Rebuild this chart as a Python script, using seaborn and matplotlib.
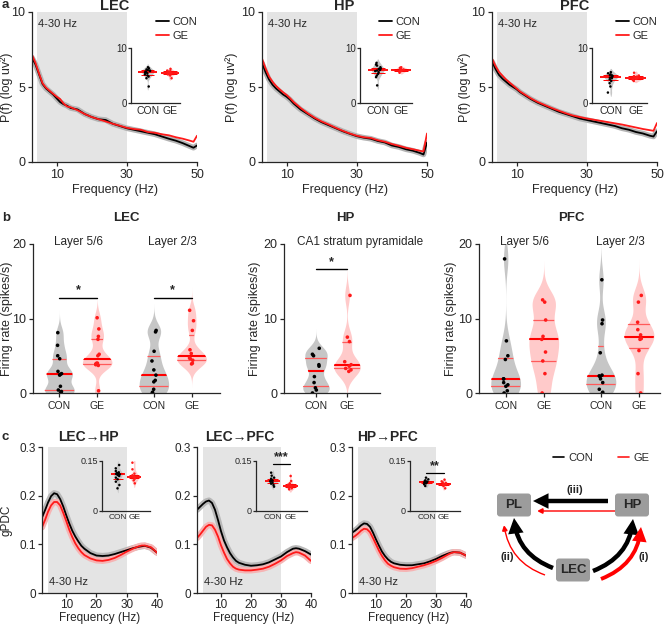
import numpy as np
import pandas as pd
import matplotlib
matplotlib.use("Agg")
import matplotlib.pyplot as plt
import seaborn as sns
from matplotlib.lines import Line2D
from matplotlib.collections import PolyCollection
from matplotlib.patches import FancyBboxPatch, FancyArrowPatch
from matplotlib.transforms import blended_transform_factory

# ----------------------------------------------------------------- data
groups = ["CON", "GE"]

# panel a : power spectra (log power)
a_freq = [3, 4, 5, 6, 7, 8, 9, 10, 11, 12, 13, 14, 16, 18, 20, 22, 24, 26, 28, 30,
          32, 34, 36, 38, 40, 42, 44, 46, 48, 49, 50]
a_lec_con = [6.95, 6.5, 5.85, 5.2, 4.9, 4.7, 4.5, 4.25, 4.0, 3.85, 3.75, 3.6, 3.5, 3.2, 3.0, 2.85,
             2.8, 2.55, 2.4, 2.25, 2.15, 2.05, 1.95, 1.85, 1.7, 1.55, 1.42, 1.25, 1.05, 0.95, 1.1]
a_lec_ge = [7.15, 6.6, 5.9, 5.25, 4.95, 4.75, 4.55, 4.36, 4.2, 3.9, 3.7, 3.65, 3.45, 3.2, 3.0, 2.85,
            2.7, 2.55, 2.42, 2.28, 2.2, 2.15, 2.0, 1.95, 1.85, 1.78, 1.65, 1.55, 1.42, 1.35, 1.75]
a_hp_con = [6.6, 6.0, 5.5, 5.15, 4.9, 4.7, 4.5, 4.35, 4.15, 3.9, 3.7, 3.5, 3.2, 2.9, 2.65, 2.45,
            2.25, 2.05, 1.88, 1.72, 1.62, 1.55, 1.4, 1.3, 1.1, 1.0, 0.85, 0.75, 0.6, 0.5, 1.3]
a_hp_ge = [6.9, 6.25, 5.7, 5.35, 5.07, 4.85, 4.65, 4.47, 4.25, 4.0, 3.8, 3.6, 3.25, 2.95, 2.7, 2.5,
           2.28, 2.08, 1.9, 1.75, 1.65, 1.6, 1.45, 1.35, 1.2, 1.08, 0.95, 0.85, 0.75, 0.7, 1.9]
a_pfc_con = [6.7, 6.2, 5.8, 5.55, 5.35, 5.15, 5.0, 4.85, 4.65, 4.5, 4.35, 4.2, 3.95, 3.75, 3.55, 3.35,
             3.2, 3.05, 2.9, 2.8, 2.7, 2.6, 2.5, 2.4, 2.25, 2.15, 2.0, 1.9, 1.75, 1.7, 2.05]
a_pfc_ge = [6.9, 6.4, 6.0, 5.75, 5.5, 5.3, 5.1, 4.9, 4.7, 4.55, 4.4, 4.25, 4.0, 3.8, 3.6, 3.42,
            3.25, 3.1, 3.0, 2.9, 2.82, 2.74, 2.66, 2.58, 2.5, 2.4, 2.3, 2.2, 2.12, 2.08, 2.6]

# panel a insets : mean power 4-30 Hz per animal
ai_lec_con = [6.5, 6.3, 6.1, 6.0, 5.9, 5.8, 5.7, 5.6, 5.5, 5.4, 5.2, 5.0, 4.8, 4.5, 3.0]
ai_lec_ge = [6.2, 5.9, 5.8, 5.7, 5.6, 5.5, 5.4, 5.3, 5.2, 5.0, 4.5]
ai_hp_con = [7.3, 7.0, 6.8, 6.5, 6.3, 6.2, 6.1, 6.0, 5.9, 5.8, 5.6, 5.3, 5.0, 4.7, 3.2]
ai_hp_ge = [6.5, 6.4, 6.3, 6.2, 6.1, 6.0, 6.0, 5.9, 5.8, 5.7, 5.5]
ai_pfc_con = [5.6, 5.4, 5.2, 5.1, 5.0, 4.9, 4.8, 4.7, 4.6, 4.5, 4.3, 4.0, 3.6, 3.0, 1.9]
ai_pfc_ge = [5.5, 5.0, 4.9, 4.8, 4.7, 4.6, 4.5, 4.4, 4.3, 4.2, 4.0]

# panel b : firing rates (spikes/s)
b_layers = ["Layer 5/6", "Layer 2/3"]
b_lec_l56_con = [8.1, 6.4, 5.0, 4.6, 2.9, 2.6, 2.5, 2.4, 0.9, 0.4, 0.2, 0.1, 0.0]
b_lec_l56_ge = [10.1, 8.6, 7.6, 7.2, 5.2, 5.0, 4.0, 4.0, 3.9, 3.8, 3.7, 0.3]
b_lec_l23_con = [8.4, 8.2, 5.6, 4.3, 3.1, 2.4, 1.7, 1.5, 0.5, 0.1, 0.0]
b_lec_l23_ge = [11.1, 9.7, 8.4, 5.8, 5.3, 4.7, 4.6, 4.4, 4.0, 3.9]
b_hp_con = [6.0, 5.2, 5.0, 3.8, 3.6, 2.2, 1.4, 0.7, 0.4, 0.0]
b_hp_ge = [13.1, 7.5, 6.9, 4.2, 3.8, 3.6, 3.3, 3.1, 2.9]
b_pfc_l56_con = [18.0, 7.0, 5.0, 4.5, 1.9, 1.9, 1.4, 1.1, 0.9, 0.3, 0.0]
b_pfc_l56_ge = [12.5, 12.2, 9.8, 7.6, 7.2, 5.5, 4.3, 2.6, 0.0]
b_pfc_l23_con = [15.2, 9.8, 9.3, 5.4, 2.4, 2.3, 2.2, 1.9, 1.4, 0.5, 0.1, 0.0]
b_pfc_l23_ge = [13.1, 12.2, 9.5, 8.5, 7.8, 7.3, 7.2, 5.7, 2.6, 0.0]
b_sig_lec = [12.8, 12.8]      # height of significance bars (spikes/s)
b_sig_hp = 16.6

# panel c : gPDC
c_freq = [2, 3, 4, 5, 6, 7, 8, 9, 10, 11, 12, 13, 14, 15, 16, 18, 20, 22, 24, 26, 28, 30,
          32, 34, 35, 36, 38, 40]
c_lh_con = [0.155, 0.17, 0.186, 0.199, 0.205, 0.203, 0.193, 0.178, 0.16, 0.143, 0.128, 0.116,
            0.106, 0.097, 0.091, 0.082, 0.077, 0.076, 0.077, 0.080, 0.084, 0.088, 0.092, 0.095,
            0.096, 0.097, 0.093, 0.083]
c_lh_ge = [0.135, 0.15, 0.167, 0.18, 0.187, 0.187, 0.18, 0.165, 0.148, 0.13, 0.115, 0.102,
           0.092, 0.084, 0.078, 0.071, 0.067, 0.066, 0.068, 0.072, 0.078, 0.085, 0.091, 0.096,
           0.0975, 0.0975, 0.094, 0.083]
c_lp_con = [0.171, 0.177, 0.183, 0.188, 0.19, 0.185, 0.171, 0.15, 0.127, 0.108, 0.094, 0.082,
            0.073, 0.066, 0.062, 0.058, 0.056, 0.057, 0.059, 0.063, 0.069, 0.075, 0.084, 0.091,
            0.092, 0.091, 0.086, 0.079]
c_lp_ge = [0.113, 0.12, 0.128, 0.136, 0.14, 0.139, 0.13, 0.116, 0.098, 0.083, 0.07, 0.061,
           0.054, 0.05, 0.048, 0.0465, 0.0465, 0.048, 0.05, 0.054, 0.06, 0.067, 0.076, 0.082,
           0.084, 0.083, 0.077, 0.066]
c_hp_con = [0.124, 0.128, 0.133, 0.139, 0.143, 0.142, 0.136, 0.124, 0.11, 0.097, 0.085, 0.076,
            0.069, 0.064, 0.061, 0.058, 0.057, 0.057, 0.059, 0.061, 0.065, 0.07, 0.076, 0.081,
            0.083, 0.084, 0.083, 0.077]
c_hp_ge = [0.113, 0.117, 0.122, 0.128, 0.132, 0.131, 0.125, 0.113, 0.1, 0.087, 0.076, 0.067,
           0.06, 0.056, 0.053, 0.05, 0.0495, 0.051, 0.054, 0.057, 0.061, 0.066, 0.072, 0.079,
           0.082, 0.084, 0.083, 0.077]

# panel c insets : mean gPDC 4-30 Hz per animal
ci_lh_con = [0.138, 0.128, 0.12, 0.116, 0.114, 0.112, 0.111, 0.11, 0.108, 0.105, 0.1, 0.095, 0.088, 0.078, 0.068]
ci_lh_ge = [0.145, 0.125, 0.112, 0.107, 0.104, 0.103, 0.102, 0.1, 0.097, 0.092, 0.083]
ci_lp_con = [0.115, 0.106, 0.1, 0.097, 0.094, 0.092, 0.091, 0.09, 0.088, 0.085, 0.082, 0.078, 0.073]
ci_lp_ge = [0.105, 0.09, 0.083, 0.079, 0.077, 0.0755, 0.074, 0.072, 0.07, 0.068, 0.065]
ci_hp_con = [0.1, 0.095, 0.092, 0.09, 0.088, 0.087, 0.086, 0.085, 0.083, 0.08, 0.075]
ci_hp_ge = [0.094, 0.089, 0.086, 0.084, 0.082, 0.081, 0.08, 0.078, 0.075, 0.068]
ci_sig = [None, ("***", 0.141), ("**", 0.115)]

# ---------------------------------------------------------------- style
sns.set_style("ticks")
plt.rcParams["font.family"] = ["Liberation Sans", "DejaVu Sans"]
plt.rcParams["axes.linewidth"] = 0.9
plt.rcParams["xtick.major.width"] = 0.9
plt.rcParams["ytick.major.width"] = 0.9

pal_line = {"CON": "black", "GE": "#ff1a1a"}
pal_violin = {"CON": "#c6c6c6", "GE": "#ffcaca"}
pal_dot = {"CON": "black", "GE": "#ff1a1a"}
SHADE = "#e4e4e4"

W, H = 667, 625
fig = plt.figure(figsize=(W / 100, H / 100), dpi=100)
np.random.seed(3)


def add_ax(x0, y0, x1, y1):
    return fig.add_axes([x0 / W, 1 - y1 / H, (x1 - x0) / W, (y1 - y0) / H])


def ftext(x, y, s, **kw):
    fig.text(x / W, 1 - y / H, s, **kw)


def add_quartiles(ax, spec):
    polys = [c for c in ax.collections if isinstance(c, PolyCollection)]
    for pos, vals in spec:
        best = min(polys, key=lambda p: abs(p.get_paths()[0].vertices[:, 0].mean() - pos))
        q1, med, q3 = np.percentile(vals, [25, 50, 75])
        for yv, lw, col in ((q1, 0.9, "#ff5a5a"), (med, 1.5, "red"), (q3, 0.9, "#ff5a5a")):
            lc = ax.hlines(yv, pos - 0.7, pos + 0.7, colors=col, lw=lw, zorder=3)
            lc.set_clip_path(best.get_paths()[0], best.get_transform())


def small_inset(ax, con, ge, ylim, yticks, yticklabels, tfs, lfs):
    df = pd.DataFrame({"group": ["CON"] * len(con) + ["GE"] * len(ge), "val": con + ge})
    sns.violinplot(data=df, x="group", y="val", hue="group", order=groups, hue_order=groups,
                   palette=pal_violin, inner=None, linewidth=0, width=0.55, cut=1.5,
                   bw_adjust=0.8, density_norm="width", legend=False, saturation=1, ax=ax)
    for i, vals in enumerate([con, ge]):
        q1, med, q3 = np.percentile(vals, [25, 50, 75])
        ax.hlines(med, i - 0.42, i + 0.42, colors="red", lw=1.3, zorder=4)
        ax.hlines([q1, q3], i - 0.3, i + 0.3, colors="red", lw=0.7, zorder=4)
    sns.stripplot(data=df, x="group", y="val", hue="group", order=groups, hue_order=groups,
                  palette=pal_dot, size=1.8, jitter=0.13, legend=False, ax=ax, zorder=5)
    ax.set_facecolor("none")
    ax.set_ylim(*ylim)
    ax.set_yticks(yticks)
    ax.set_yticklabels(yticklabels)
    ax.set_xlabel("")
    ax.set_ylabel("")
    sns.despine(ax=ax)
    ax.tick_params(axis="y", labelsize=tfs, length=2, pad=1)
    ax.tick_params(axis="x", labelsize=lfs, length=0, pad=2)


# ============================================================== panel a
a_specs = [
    ("LEC", (32, 12, 197, 162), (131, 48, 180, 103), a_lec_con, a_lec_ge, ai_lec_con, ai_lec_ge, 1.0, 13),
    ("HP", (262, 12, 427, 162), (360, 48, 412, 103), a_hp_con, a_hp_ge, ai_hp_con, ai_hp_ge, 0.96, 238),
    ("PFC", (492, 12, 657, 162), (592, 48, 647, 103), a_pfc_con, a_pfc_ge, ai_pfc_con, ai_pfc_ge, 1.0, 471),
]
for title, axr, insr, con, ge, icon, ige, legx, ylab_x in a_specs:
    ax = add_ax(*axr)
    ax.axvspan(4.5, 30, color=SHADE, lw=0, zorder=0)
    n = len(a_freq)
    df = pd.DataFrame({"freq": a_freq * 2, "power": con + ge, "group": ["CON"] * n + ["GE"] * n})
    sns.lineplot(x=a_freq, y=con, color="#b4b4b4", lw=4, ax=ax, legend=False)
    sns.lineplot(data=df, x="freq", y="power", hue="group", hue_order=groups,
                 palette=pal_line, lw=1.3, ax=ax, legend=False)
    ax.set_xlim(3, 50)
    ax.set_ylim(0, 10)
    ax.set_xticks([10, 30, 50])
    ax.set_yticks([0, 5, 10])
    ax.set_xlabel("Frequency (Hz)", fontsize=9, labelpad=2)
    ax.set_ylabel("P(f) (log uv²)", fontsize=9)
    ax.yaxis.set_label_coords((ylab_x - axr[0]) / (axr[2] - axr[0]), 0.5)
    sns.despine(ax=ax)
    ax.tick_params(labelsize=9, length=3, pad=2)
    ax.text(0.035, 0.92, "4-30 Hz", transform=ax.transAxes, fontsize=8, va="center", ha="left")
    handles = [Line2D([], [], color=pal_line[g], lw=1.3) for g in groups]
    ax.legend(handles, groups, loc="upper right", bbox_to_anchor=(legx, 0.965), frameon=False,
              fontsize=8, handlelength=1.2, handletextpad=0.3, labelspacing=0.3,
              borderpad=0, borderaxespad=0)
    ftext((axr[0] + axr[2]) / 2, 6, title, fontsize=10.5, fontweight="bold", ha="center", va="center")
    ins = add_ax(*insr)
    small_inset(ins, icon, ige, (0, 10), [0, 10], ["0", "10"], 7, 7.5)
    ins.set_xlim(-0.75, 1.45)

ftext(2, 5, "a", fontsize=9.5, fontweight="bold", ha="left", va="center")

# ============================================================== panel b
def layered_panel(axr, data, sig):
    ax = add_ax(*axr)
    rows = []
    for (layer, g), vals in data.items():
        rows += [(layer, g, v) for v in vals]
    df = pd.DataFrame(rows, columns=["layer", "group", "rate"])
    width = 0.8
    sns.violinplot(data=df, x="layer", y="rate", hue="group", order=b_layers, hue_order=groups,
                   palette=pal_violin, inner=None, linewidth=0, width=width, gap=0.22, cut=3.5,
                   bw_adjust=0.55, density_norm="width", dodge=True, legend=False,
                   saturation=1, ax=ax)
    sns.stripplot(data=df, x="layer", y="rate", hue="group", order=b_layers, hue_order=groups,
                  palette=pal_dot, dodge=True, size=2.6, jitter=0.05, legend=False, ax=ax, zorder=5)
    spec, ticks, labels = [], [], []
    for li, layer in enumerate(b_layers):
        for gi, g in enumerate(groups):
            pos = li + (gi - 0.5) * width / len(groups)
            spec.append((pos, data[(layer, g)]))
            ticks.append(pos)
            labels.append(g)
    add_quartiles(ax, spec)
    ax.set_xticks(ticks)
    ax.set_xticklabels(labels)
    ax.set_xlim(-0.48, 1.5 if sig else 1.42)
    tr = blended_transform_factory(ax.transData, ax.transAxes)
    for li, layer in enumerate(b_layers):
        ax.text(li, 1.012, layer, transform=tr, ha="center", va="center", fontsize=8.5)
    if sig:
        for li, yv in enumerate(sig):
            x0, x1 = ticks[2 * li], ticks[2 * li + 1]
            ax.plot([x0, x1], [yv, yv], color="black", lw=1)
            ax.text((x0 + x1) / 2, yv + 0.15, "*", ha="center", va="bottom", fontsize=9, fontweight="bold")
    return ax


def finish_b(ax, axr, ylab_x):
    ax.set_ylim(0, 20)
    ax.set_yticks([0, 10, 20])
    ax.set_xlabel("")
    ax.set_ylabel("Firing rate (spikes/s)", fontsize=9)
    ax.yaxis.set_label_coords((ylab_x - axr[0]) / (axr[2] - axr[0]), 0.5)
    sns.despine(ax=ax)
    ax.tick_params(axis="y", labelsize=9, length=3, pad=2)
    ax.tick_params(axis="x", labelsize=7.5, length=3, pad=3)


lec_b_r = (33, 244, 220, 393)
ax = layered_panel(lec_b_r, {("Layer 5/6", "CON"): b_lec_l56_con, ("Layer 5/6", "GE"): b_lec_l56_ge,
                             ("Layer 2/3", "CON"): b_lec_l23_con, ("Layer 2/3", "GE"): b_lec_l23_ge},
                   b_sig_lec)
finish_b(ax, lec_b_r, 13)

pfc_b_r = (479, 244, 660, 393)
ax = layered_panel(pfc_b_r, {("Layer 5/6", "CON"): b_pfc_l56_con, ("Layer 5/6", "GE"): b_pfc_l56_ge,
                             ("Layer 2/3", "CON"): b_pfc_l23_con, ("Layer 2/3", "GE"): b_pfc_l23_ge},
                   None)
finish_b(ax, pfc_b_r, 457)

hp_b_r = (284, 244, 380, 393)
ax = add_ax(*hp_b_r)
df = pd.DataFrame({"group": ["CON"] * len(b_hp_con) + ["GE"] * len(b_hp_ge), "rate": b_hp_con + b_hp_ge})
sns.violinplot(data=df, x="group", y="rate", hue="group", order=groups, hue_order=groups,
               palette=pal_violin, inner=None, linewidth=0, width=0.85, cut=3.5, bw_adjust=0.55,
               density_norm="width", legend=False, saturation=1, ax=ax)
sns.stripplot(data=df, x="group", y="rate", hue="group", order=groups, hue_order=groups,
              palette=pal_dot, size=2.6, jitter=0.14, legend=False, ax=ax, zorder=5)
add_quartiles(ax, [(0, b_hp_con), (1, b_hp_ge)])
ax.plot([0, 1], [b_sig_hp, b_sig_hp], color="black", lw=1)
ax.text(0.5, b_sig_hp + 0.15, "*", ha="center", va="bottom", fontsize=9, fontweight="bold")
ax.set_xlim(-1.03, 2.06)
finish_b(ax, hp_b_r, 261)

ftext(126, 218, "LEC", fontsize=9.5, fontweight="bold", ha="center", va="center")
ftext(345, 218, "HP", fontsize=9.5, fontweight="bold", ha="center", va="center")
ftext(571, 218, "PFC", fontsize=9.5, fontweight="bold", ha="center", va="center")
ftext(360, 242, "CA1 stratum pyramidale", fontsize=8.5, ha="center", va="center")
ftext(2, 218, "b", fontsize=9.5, fontweight="bold", ha="left", va="center")

# ============================================================== panel c
c_specs = [
    ("LEC→HP", (42, 447, 157, 593), (102, 461, 150, 511), c_lh_con, c_lh_ge, ci_lh_con, ci_lh_ge, 88),
    ("LEC→PFC", (197, 447, 311, 593), (256, 461, 307, 511), c_lp_con, c_lp_ge, ci_lp_con, ci_lp_ge, 240),
    ("HP→PFC", (352, 447, 466, 593), (410, 461, 460, 511), c_hp_con, c_hp_ge, ci_hp_con, ci_hp_ge, 388),
]
for k, (title, axr, insr, con, ge, icon, ige, tx) in enumerate(c_specs):
    ax = add_ax(*axr)
    ax.axvspan(4, 30, color=SHADE, lw=0, zorder=0)
    n = len(c_freq)
    df = pd.DataFrame({"freq": c_freq * 2, "gpdc": con + ge, "group": ["CON"] * n + ["GE"] * n})
    sns.lineplot(x=c_freq, y=con, color="#b8b8b8", lw=4.5, ax=ax, legend=False)
    sns.lineplot(x=c_freq, y=ge, color="#f6b4b4", lw=4.5, ax=ax, legend=False)
    sns.lineplot(data=df, x="freq", y="gpdc", hue="group", hue_order=groups,
                 palette=pal_line, lw=1.3, ax=ax, legend=False)
    ax.set_xlim(2, 40)
    ax.set_ylim(0, 0.3)
    ax.set_xticks([10, 20, 30, 40])
    ax.set_yticks([0, 0.1, 0.2, 0.3])
    ax.set_yticklabels(["0", "0.1", "0.2", "0.3"])
    ax.set_xlabel("Frequency (Hz)", fontsize=8.5, labelpad=0.5)
    ax.set_ylabel("gPDC" if k == 0 else "", fontsize=8.5)
    if k == 0:
        ax.yaxis.set_label_coords((13 - axr[0]) / (axr[2] - axr[0]), 0.5)
    sns.despine(ax=ax)
    ax.tick_params(labelsize=8.5, length=3, pad=1.5)
    tr = blended_transform_factory(ax.transData, ax.transAxes)
    ax.text(4.3, 0.075, "4-30 Hz", transform=tr, fontsize=8, va="center", ha="left")
    ftext(tx, 437, title, fontsize=10, fontweight="bold", ha="center", va="center")
    ins = add_ax(*insr)
    small_inset(ins, icon, ige, (0, 0.15), [0, 0.15], ["0", "0.15"], 6.5, 6)
    ins.set_xlim(-0.95, 1.95)
    if ci_sig[k]:
        stars, yv = ci_sig[k]
        ins.plot([0, 1], [yv, yv], color="black", lw=0.9, clip_on=False)
        ins.text(0.5, yv + 0.001, stars, ha="center", va="bottom", fontsize=9, fontweight="bold")

ftext(2, 437, "c", fontsize=9.5, fontweight="bold", ha="left", va="center")

# ------------------------------------------------------- scheme of panel c
dg = add_ax(440, 440, 667, 600)
dg.set_xlim(440, 667)
dg.set_ylim(600, 440)
dg.axis("off")
nodes = {"PL": (514, 505), "HP": (632, 505), "LEC": (573, 570)}
for name, (cx, cy) in nodes.items():
    dg.add_patch(FancyBboxPatch((cx - 17, cy - 11.5), 34, 23,
                                boxstyle="round,pad=0,rounding_size=3", fc="#9c9c9c", ec="none"))
    dg.text(cx, cy, name, ha="center", va="center", fontsize=9.5, fontweight="bold")

arrows = [
    ((608, 501), (533, 501), 0.0, "black", 3.2, 15),
    ((615, 511), (537, 511), 0.0, "red", 1.0, 8),
    ((553, 568), (514, 518), -0.3, "black", 3.2, 15),
    ((545, 575), (504, 525), -0.3, "red", 1.0, 8),
    ((593, 571), (633, 519), 0.3, "black", 3.2, 15),
    ((601, 579), (641, 527), 0.3, "red", 2.8, 15),
]
for a0, a1, rad, col, lw, ms in arrows:
    dg.add_patch(FancyArrowPatch(a0, a1, arrowstyle="-|>", connectionstyle=f"arc3,rad={rad}",
                                 color=col, lw=lw, mutation_scale=ms, shrinkA=0, shrinkB=0,
                                 joinstyle="miter", capstyle="butt"))
dg.text(575, 490, "(iii)", ha="center", va="center", fontsize=8, fontweight="bold")
dg.text(507, 557, "(ii)", ha="center", va="center", fontsize=8, fontweight="bold")
dg.text(644, 557, "(i)", ha="center", va="center", fontsize=8, fontweight="bold")
dg.legend([Line2D([], [], color=pal_line[g], lw=1.2) for g in groups], groups, ncol=2,
          loc="center", bbox_to_anchor=(601, 458), bbox_transform=dg.transData, frameon=False,
          fontsize=8, handlelength=1.0, handletextpad=0.4, columnspacing=2.2)

fig.savefig("out.png", dpi=100)
